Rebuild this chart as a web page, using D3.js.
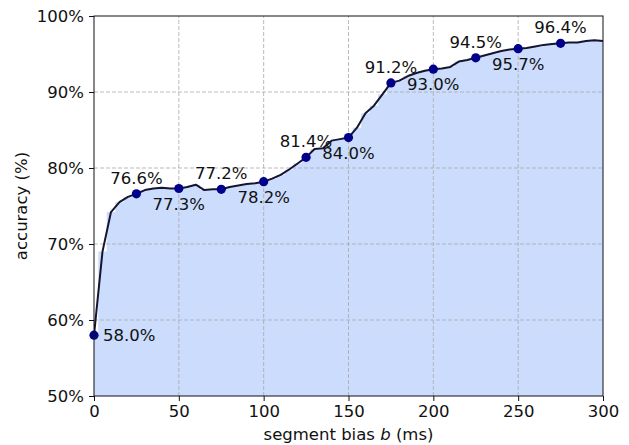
<!DOCTYPE html>
<html>
<head>
<meta charset="utf-8">
<script src="https://cdn.jsdelivr.net/npm/d3@7"></script>
<style>
  body { margin: 0; background: #fff; }
  text { font-family: "DejaVu Sans", sans-serif; }
</style>
</head>
<body>
<div id="chart"></div>
<script>
// dense curve, one value every 5 ms
const biasMs = d3.range(0, 301, 5);
const accuracy = [
  58.0, 69.0, 74.2, 75.5, 76.2, 76.6, 77.1, 77.3, 77.4, 77.3,
  77.3, 77.5, 77.8, 77.1, 77.2, 77.2, 77.5, 77.7, 77.9, 78.0,
  78.2, 78.6, 79.1, 79.8, 80.6, 81.4, 82.5, 82.6, 83.6, 83.8,
  84.0, 85.3, 87.2, 88.2, 89.7, 91.2, 91.5, 92.1, 92.5, 92.8,
  93.0, 93.1, 93.3, 94.0, 94.2, 94.5, 94.8, 95.1, 95.4, 95.6,
  95.7, 95.8, 96.0, 96.2, 96.3, 96.4, 96.5, 96.5, 96.7, 96.8,
  96.7
];

// highlighted points
const markerMs = [0, 25, 50, 75, 100, 125, 150, 175, 200, 225, 250, 275];
const markerAcc = [58.0, 76.6, 77.3, 77.2, 78.2, 81.4, 84.0, 91.2, 93.0, 94.5, 95.7, 96.4];

const xTicks = [0, 50, 100, 150, 200, 250, 300];
const yTicks = [50, 60, 70, 80, 90, 100];

const width = 629, height = 445;
const margin = { top: 16, right: 26, bottom: 49, left: 94 };
const fs = 16.5;

const svg = d3.select("#chart")
  .append("svg")
  .attr("width", width)
  .attr("height", height);

const x = d3.scaleLinear().domain([0, 300]).range([margin.left, width - margin.right]);
const y = d3.scaleLinear().domain([50, 100]).range([height - margin.bottom, margin.top]);

svg.append("clipPath").attr("id", "plot")
  .append("rect")
  .attr("x", margin.left).attr("y", margin.top)
  .attr("width", x(300) - x(0)).attr("height", y(50) - y(100));

const pts = biasMs.map((b, i) => [b, accuracy[i]]);

// filled area under the curve (stepped)
const area = d3.area()
  .curve(d3.curveStep)
  .x(d => x(d[0]))
  .y0(y(50))
  .y1(d => y(d[1]));

svg.append("path")
  .datum(pts)
  .attr("clip-path", "url(#plot)")
  .attr("d", area)
  .attr("fill", "#ccdcfd");

// grid
const grid = svg.append("g").attr("stroke", "#aaaaaa").attr("stroke-width", 0.8)
  .attr("stroke-dasharray", "4,2");
grid.selectAll("line.gx").data(xTicks.slice(1, -1)).join("line")
  .attr("x1", d => x(d)).attr("x2", d => x(d))
  .attr("y1", y(50)).attr("y2", y(100));
grid.selectAll("line.gy").data(yTicks.slice(1, -1)).join("line")
  .attr("y1", d => y(d)).attr("y2", d => y(d))
  .attr("x1", x(0)).attr("x2", x(300));

// curve
const line = d3.line()
  .x(d => x(d[0]))
  .y(d => y(d[1]));

svg.append("path")
  .datum(pts)
  .attr("clip-path", "url(#plot)")
  .attr("d", line)
  .attr("fill", "none")
  .attr("stroke", "#151530")
  .attr("stroke-width", 2)
  .attr("stroke-linejoin", "round");

// markers
svg.append("g").selectAll("circle")
  .data(markerMs)
  .join("circle")
  .attr("cx", d => x(d))
  .attr("cy", (d, i) => y(markerAcc[i]))
  .attr("r", 4.6)
  .attr("fill", "#00008b");

// annotations: first to the right, then alternately above / below
svg.append("g").selectAll("text")
  .data(markerMs)
  .join("text")
  .attr("x", (d, i) => i === 0 ? x(d) + 9 : x(d))
  .attr("y", (d, i) => {
    const cy = y(markerAcc[i]);
    if (i === 0) return cy + 6;
    return i % 2 === 1 ? cy - 10 : cy + 21;
  })
  .attr("text-anchor", (d, i) => i === 0 ? "start" : "middle")
  .attr("font-size", fs)
  .attr("fill", "#111")
  .text((d, i) => markerAcc[i].toFixed(1) + "%");

// axes
svg.append("g")
  .attr("transform", `translate(0,${y(50)})`)
  .call(d3.axisBottom(x).tickValues(xTicks).tickSize(5).tickPadding(4))
  .call(g => g.select(".domain").remove())
  .call(g => g.selectAll("text").attr("font-size", fs).attr("fill", "#111").attr("font-family", "DejaVu Sans"))
  .call(g => g.selectAll("line").attr("stroke", "#111"));

svg.append("g")
  .attr("transform", `translate(${x(0)},0)`)
  .call(d3.axisLeft(y).tickValues(yTicks).tickFormat(d => d + "%").tickSize(5).tickPadding(5))
  .call(g => g.select(".domain").remove())
  .call(g => g.selectAll("text").attr("font-size", fs).attr("fill", "#111").attr("font-family", "DejaVu Sans"))
  .call(g => g.selectAll("line").attr("stroke", "#111"));

// frame
svg.append("rect")
  .attr("x", x(0)).attr("y", y(100))
  .attr("width", x(300) - x(0)).attr("height", y(50) - y(100))
  .attr("fill", "none")
  .attr("stroke", "#111")
  .attr("stroke-width", 1);

// labels
const xl = svg.append("text")
  .attr("x", (x(0) + x(300)) / 2)
  .attr("y", 440)
  .attr("text-anchor", "middle")
  .attr("font-size", fs)
  .attr("fill", "#111");
xl.append("tspan").text("segment bias ");
xl.append("tspan").attr("font-style", "italic").text("b");
xl.append("tspan").text(" (ms)");

svg.append("text")
  .attr("transform", `translate(27,${(y(50) + y(100)) / 2}) rotate(-90)`)
  .attr("text-anchor", "middle")
  .attr("font-size", fs)
  .attr("fill", "#111")
  .text("accuracy (%)");
</script>
</body>
</html>
